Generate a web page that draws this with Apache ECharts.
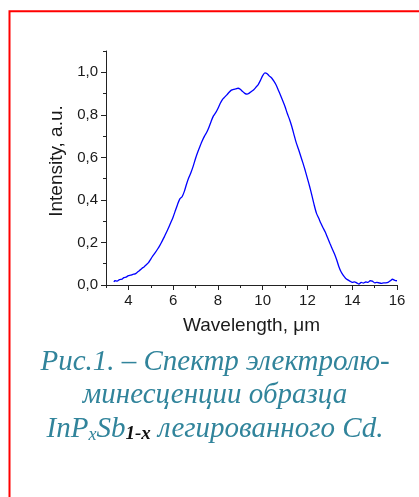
<!DOCTYPE html>
<html>
<head>
<meta charset="utf-8">
<script src="https://cdn.jsdelivr.net/npm/echarts@6/dist/echarts.min.js"></script>
<style>html,body{margin:0;padding:0;background:#fff;}#c{width:419px;height:497px;}</style>
</head>
<body>
<div id="c"></div>
<script>
const wavelength = [3.35,3.4,3.5,3.6,3.7,3.8,3.9,4.0,4.1,4.2,4.3,4.4,4.5,4.6,4.7,4.8,4.9,5.0,5.1,5.2,5.3,5.4,5.5,5.6,5.7,5.8,5.9,6.0,6.1,6.2,6.3,6.4,6.5,6.6,6.7,6.8,6.9,7.0,7.1,7.2,7.3,7.4,7.5,7.6,7.7,7.8,7.9,8.0,8.1,8.2,8.3,8.4,8.5,8.6,8.7,8.8,8.9,9.0,9.1,9.2,9.3,9.4,9.5,9.6,9.7,9.8,9.9,10.0,10.1,10.2,10.3,10.4,10.5,10.6,10.7,10.8,10.9,11.0,11.1,11.2,11.3,11.4,11.5,11.6,11.7,11.8,11.9,12.0,12.1,12.2,12.3,12.4,12.5,12.6,12.7,12.8,12.9,13.0,13.1,13.2,13.3,13.4,13.5,13.6,13.7,13.8,13.9,14.0,14.1,14.2,14.3,14.4,14.5,14.6,14.7,14.8,14.9,15.0,15.1,15.2,15.3,15.4,15.5,15.6,15.7,15.8,15.9,16.0];
const intensity = [0.015,0.02,0.018,0.025,0.027,0.035,0.037,0.044,0.046,0.05,0.052,0.06,0.068,0.078,0.085,0.095,0.105,0.122,0.138,0.152,0.168,0.185,0.205,0.225,0.248,0.27,0.295,0.32,0.35,0.38,0.405,0.415,0.44,0.475,0.505,0.53,0.56,0.595,0.625,0.652,0.678,0.7,0.718,0.742,0.77,0.795,0.81,0.83,0.853,0.872,0.883,0.894,0.906,0.916,0.92,0.922,0.925,0.92,0.91,0.901,0.897,0.902,0.91,0.918,0.93,0.942,0.962,0.984,0.997,0.993,0.982,0.973,0.958,0.94,0.916,0.891,0.865,0.838,0.806,0.778,0.745,0.706,0.668,0.638,0.605,0.573,0.538,0.5,0.462,0.42,0.376,0.338,0.315,0.29,0.268,0.248,0.222,0.196,0.172,0.148,0.12,0.087,0.062,0.045,0.032,0.024,0.018,0.012,0.015,0.01,0.004,0.012,0.009,0.014,0.012,0.02,0.018,0.01,0.012,0.01,0.008,0.01,0.01,0.012,0.02,0.027,0.022,0.02];
const xTicks = [4,6,8,10,12,14,16];
const xMinorTicks = [3,5,7,9,11,13,15];
const yTicks = [0,0.2,0.4,0.6,0.8,1.0];
const yMinorTicks = [0.1,0.3,0.5,0.7,0.9,1.1];
const xName = 'Wavelength, μm';
const yName = 'Intensity, a.u.';
const captionLines = ['Рис.1. – Спектр электролю-', 'минесценции образца'];

const chart = echarts.init(document.getElementById('c'), null, {renderer:'canvas'});
const sans = 'Liberation Sans, Arial, sans-serif';
const axisFont = {fontFamily:sans, fontSize:15, color:'#1a1a1a'};
const cap = '#31849B';
const serif = 'Liberation Serif, Times New Roman, serif';
chart.setOption({
  animation:false,
  backgroundColor:'#fff',
  grid:{left:106, right:22, top:51, bottom:212},
  xAxis:[{
    type:'value', min:3, max:16,
    name:xName, nameLocation:'middle', nameGap:31,
    nameTextStyle:{fontFamily:sans, fontSize:19, color:'#1a1a1a'},
    axisLine:{lineStyle:{color:'#222', width:1}},
    axisTick:{customValues:xTicks, length:5, lineStyle:{color:'#222'}},
    axisLabel:Object.assign({customValues:xTicks, margin:8}, axisFont),
    splitLine:{show:false}
  },{
    type:'value', min:3, max:16, position:'bottom',
    axisLine:{show:false},
    axisTick:{customValues:xMinorTicks, length:3, lineStyle:{color:'#222'}},
    axisLabel:{show:false}, splitLine:{show:false}
  }],
  yAxis:[{
    type:'value', min:0, max:1.1,
    name:yName, nameLocation:'middle', nameGap:40,
    nameTextStyle:{fontFamily:sans, fontSize:19, color:'#1a1a1a', padding:[0,0,0,14]},
    axisLine:{show:true, lineStyle:{color:'#222', width:1}},
    axisTick:{show:true, customValues:yTicks, length:5, lineStyle:{color:'#222'}},
    axisLabel:Object.assign({customValues:yTicks, margin:8, formatter:v=>v.toFixed(1).replace('.',',')}, axisFont),
    splitLine:{show:false}
  },{
    type:'value', min:0, max:1.1, position:'left',
    axisLine:{show:false},
    axisTick:{show:true, customValues:yMinorTicks, length:3, lineStyle:{color:'#222'}},
    axisLabel:{show:false}, splitLine:{show:false}
  }],
  series:[{
    type:'line', xAxisIndex:0, yAxisIndex:0,
    data:wavelength.map((w,i)=>[w,intensity[i]]),
    showSymbol:false, smooth:0.2,
    lineStyle:{color:'#0000ff', width:1.3}
  }],
  graphic:[
    {type:'rect', shape:{x:9.5, y:11.3, width:600, height:700}, style:{fill:'none', stroke:'#ff0000', lineWidth:2}, silent:true},
    {type:'text', x:215, y:362, style:{
      text:captionLines[0], fontFamily:serif, fontStyle:'italic', fontSize:29, fill:cap, align:'center', verticalAlign:'middle'
    }},
    {type:'text', x:215, y:395, style:{
      text:captionLines[1], fontFamily:serif, fontStyle:'italic', fontSize:29, fill:cap, align:'center', verticalAlign:'middle'
    }},
    {type:'text', x:215, y:427, style:{
      text:'{a|InP}{s|x}{a|Sb}{b|1-x}{a| легированного Cd.}',
      align:'center', verticalAlign:'middle',
      rich:{
        a:{fontFamily:serif, fontStyle:'italic', fontSize:29, fill:cap, lineHeight:34, verticalAlign:'bottom'},
        s:{fontFamily:serif, fontStyle:'italic', fontSize:18, fill:cap, lineHeight:34, verticalAlign:'bottom'},
        b:{fontFamily:serif, fontStyle:'italic', fontWeight:'bold', fontSize:19, fill:'#111', lineHeight:34, verticalAlign:'bottom'}
      }
    }}
  ]
});
</script>
</body>
</html>
